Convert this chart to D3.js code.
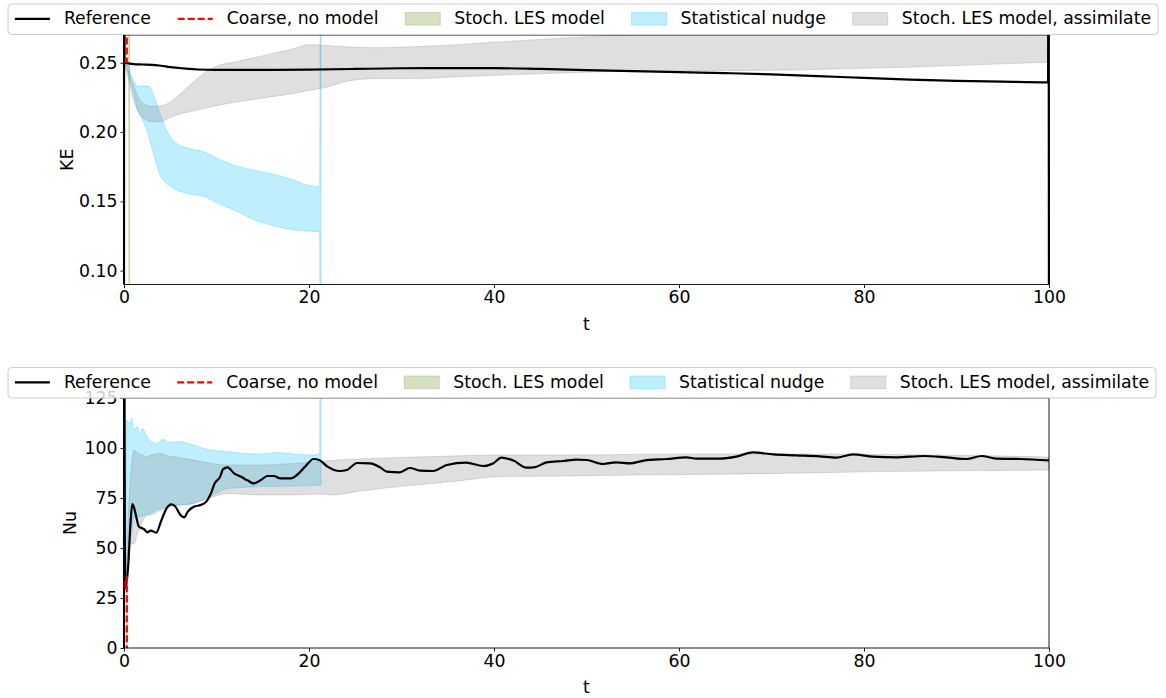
<!DOCTYPE html>
<html>
<head>
<meta charset="utf-8">
<script src="https://cdn.jsdelivr.net/npm/d3@7"></script>
<style>
  body { margin: 0; background: #fff; }
  text { font-family: "DejaVu Sans", sans-serif; }
</style>
</head>
<body>
<svg id="fig" width="1166" height="698"></svg>
<script>
// ---------- Kinetic energy (KE) ----------
const keRefT = [0, 0.01, 0.06, 0.5, 1, 2, 3, 4, 5, 6, 7, 8, 10, 15, 20, 25, 30, 35, 40, 45, 50, 55, 60, 65, 70, 75, 80, 85, 90, 95, 99.9, 99.95, 100];
const keRefV = [0.0, 0.5, 0.250, 0.2495, 0.249, 0.2487, 0.2485, 0.2478, 0.2468, 0.2462, 0.2455, 0.2451, 0.2448, 0.2448, 0.2450, 0.2455, 0.2460, 0.2461, 0.2461, 0.2455, 0.2447, 0.2440, 0.2432, 0.2425, 0.2416, 0.2404, 0.2390, 0.2378, 0.2369, 0.2363, 0.2358, 0.5, 0.0];

const keCoarseT = [0, 0.3, 0.36];
const keCoarseV = [0.25, 0.251, 5.0];

const keLesT  = [0, 0.3, 0.52, 0.58];
const keLesLo = [0.25, 0.248, 0.246, -1.0];
const keLesHi = [0.25, 0.251, 0.252, 1.0];

const keNudgeT  = [0, 0.3, 0.85, 1.6, 2, 2.7, 3.2, 3.9, 4.6, 5.7, 7.1, 8.6, 10.1, 11.9, 14.1, 16.6, 18.4, 19.9, 21.15, 21.3];
const keNudgeLo = [0.25, 0.245, 0.233, 0.214, 0.209, 0.196, 0.184, 0.169, 0.163, 0.1581, 0.1552, 0.1537, 0.1486, 0.1437, 0.1365, 0.1317, 0.1293, 0.1285, 0.1281, -1.0];
const keNudgeHi = [0.25, 0.2493, 0.2397, 0.2330, 0.2333, 0.2330, 0.2265, 0.2133, 0.2013, 0.1917, 0.1881, 0.1857, 0.1809, 0.1761, 0.1725, 0.1689, 0.1653, 0.1617, 0.1605, 1.0];

const keAsmT  = [0, 0.5, 1, 1.5, 2, 3, 4, 5, 6, 7, 8, 9, 10, 12, 14, 16, 18, 20, 22, 24, 27, 30, 33, 36, 40, 45, 50, 53, 56, 60, 65, 70, 75, 80, 85, 90, 95, 100];
const keAsmHi = [0.250, 0.244, 0.234, 0.226, 0.221, 0.2185, 0.219, 0.2215, 0.227, 0.233, 0.239, 0.244, 0.2475, 0.2505, 0.2535, 0.2565, 0.2595, 0.2630, 0.2625, 0.2615, 0.2608, 0.2612, 0.2620, 0.2630, 0.2648, 0.2668, 0.2688, 0.2698, 0.2706, 0.2715, 0.2725, 0.273, 0.274, 0.275, 0.276, 0.276, 0.277, 0.278];
const keAsmLo = [0.250, 0.238, 0.224, 0.215, 0.2105, 0.2075, 0.2075, 0.2105, 0.213, 0.2145, 0.216, 0.2175, 0.219, 0.2215, 0.2235, 0.2255, 0.2275, 0.2300, 0.2325, 0.2365, 0.2385, 0.2385, 0.2388, 0.2398, 0.2409, 0.2420, 0.2432, 0.2437, 0.2440, 0.2442, 0.2444, 0.2445, 0.2452, 0.2460, 0.2468, 0.2480, 0.2492, 0.2504];

// ---------- Nusselt number (Nu) ----------
const nuRefT = [0, 0.01, 0.12, 0.45, 0.7, 0.9, 1.1, 1.4, 1.6, 2.2, 2.5, 2.9, 3.5, 4.0, 4.6, 5.1, 5.5, 6.1, 6.5, 6.9, 7.6, 8.3, 8.9, 9.4, 9.8, 10.4, 10.7, 11.2, 11.9, 12.6, 13.4, 14.0, 14.8, 15.5, 16.2, 16.9, 18.0, 18.7, 19.5, 20.5, 21.1, 22.0, 23.3, 24.1, 25.2, 26.6, 27.7, 28.4, 29.8, 30.9, 32.0, 33.4, 34.9, 37.0, 38.8, 39.9, 40.8, 42.1, 43.5, 44.3, 45.7, 47.5, 48.9, 50.0, 51.8, 53.2, 54.7, 56.2, 58.7, 60.8, 61.9, 64.4, 66.2, 68.0, 70.2, 72.7, 75.2, 77.0, 78.8, 81.0, 83.5, 86.4, 88.9, 91.1, 92.7, 94.3, 96.9, 100];
const nuRefV = [0, 200, 30, 40.7, 62.3, 72, 70, 64, 60.7, 59.3, 57.8, 58.7, 57.7, 63.3, 69.8, 71.8, 71, 66.5, 65.3, 68.2, 70.7, 71.5, 73.2, 77.3, 82.3, 85.7, 89.3, 90.3, 87.3, 85.7, 83.7, 82.3, 84, 86, 86, 84.8, 84.8, 86.5, 90.3, 94.5, 94, 90.7, 88.5, 89, 92.5, 92.3, 90.3, 88.2, 87.8, 90, 88.7, 88.5, 91.5, 92.7, 91, 92.3, 95.2, 93.7, 90.2, 90.3, 92.8, 93.5, 94.2, 94, 92, 92.8, 92.3, 93.7, 94.5, 95.3, 94.7, 94.7, 95.7, 97.8, 96.8, 96.3, 95.8, 95.2, 96.8, 95.7, 95.3, 96, 95.3, 94.5, 96, 94.7, 94.5, 93.8];

const nuCoarseT = [0, 0.3, 0.33];
const nuCoarseV = [30, 35.5, -500];

const nuLesT  = [0, 0.2, 0.3, 0.34];
const nuLesLo = [28, 30, 32, -500];
const nuLesHi = [30, 33, 35, 35];

const nuNudgeT  = [0.2, 0.3, 0.7, 0.8, 1.1, 1.4, 1.7, 2.0, 2.4, 2.9, 3.5, 4.2, 4.9, 6.0, 7.5, 9.3, 11.2, 13.0, 14.8, 16.6, 18.4, 20.5, 21.15, 21.3];
const nuNudgeLo = [35, 40.7, 54, 57, 65.7, 65.7, 65.7, 66, 66.5, 67.5, 69, 70, 71, 71.5, 72.3, 75.7, 79.8, 80.3, 80.7, 80.8, 81, 81.3, 81.5, 81.5];
const nuNudgeHi = [40, 114, 112, 115, 109, 110.7, 107.3, 109.8, 106.5, 103.2, 102.3, 104.3, 102.7, 103.2, 101.5, 99, 98.2, 97.3, 97, 97.7, 97, 96.5, 97, 1000];

const nuAsmT  = [0.2, 0.45, 0.8, 1.1, 1.5, 2.0, 2.4, 3.0, 3.8, 4.9, 5.3, 7.5, 9.4, 11.2, 14.8, 18.4, 21.2, 22.5, 25.6, 29.8, 33.4, 37, 40.6, 47.8, 55, 62.3, 70.9, 81.7, 92.5, 100];
const nuAsmHi = [35, 64, 90.7, 99, 97.3, 96.5, 95.7, 96.5, 97.3, 96, 95.7, 94, 92.3, 91.5, 91.5, 92.3, 93.2, 93.8, 94.5, 95.3, 95.7, 96.2, 96.5, 96.5, 96.8, 97, 97, 96.8, 96.2, 95.5];
const nuAsmLo = [30, 49, 52, 52.3, 57.7, 63.2, 66, 66.8, 68.5, 70.7, 71, 72.3, 75.3, 77.3, 76.5, 76.5, 77, 76.5, 78.5, 80.7, 82.3, 84, 85.7, 86, 86.5, 86.8, 87.3, 88.2, 88.7, 89];

// ---------- axes, ticks, legend ----------
const xTicks = [0, 20, 40, 60, 80, 100];
const keTicks = [0.10, 0.15, 0.20, 0.25];
const nuTicks = [0, 25, 50, 75, 100, 125];
const legendLabels = ["Reference", "Coarse, no model", "Stoch. LES model", "Statistical nudge", "Stoch. LES model, assimilate"];

const FS = 17.3;
const style = {
  ref:    { color: "#000000" },
  coarse: { color: "#ff0000" },
  les:    { color: "olivedrab", alpha: 0.28 },
  nudge:  { color: "deepskyblue", alpha: 0.25 },
  asm:    { color: "gray", alpha: 0.25 }
};

const svg = d3.select("#fig");
svg.append("rect").attr("width", 1166).attr("height", 698).attr("fill", "#fff");

const zip2 = (t, v) => t.map((ti, i) => ({ t: ti, v: v[i] }));
const zip3 = (t, lo, hi) => t.map((ti, i) => ({ t: ti, lo: lo[i], hi: hi[i] }));

function drawPanel(cfg) {
  const L = 124, R = 1049;
  const x = d3.scaleLinear().domain([0, 100]).range([L, R]);
  const y = d3.scaleLinear().domain(cfg.yDomain).range([cfg.bottom, cfg.top]);

  // clip slightly wider than the axes so edge lines keep their full width
  svg.append("clipPath").attr("id", cfg.id)
    .append("rect").attr("x", L - 1.5).attr("y", cfg.top).attr("width", R - L + 3).attr("height", cfg.bottom - cfg.top);

  const g = svg.append("g");
  const plot = g.append("g").attr("clip-path", `url(#${cfg.id})`);

  const area = d3.area().x(d => x(d.t)).y0(d => y(d.lo)).y1(d => y(d.hi)).curve(d3.curveMonotoneX);
  const line = d3.line().x(d => x(d.t)).y(d => y(d.v)).curve(d3.curveMonotoneX);

  for (const b of cfg.bands) {
    const s = style[b.key];
    plot.append("path").datum(b.data).attr("d", area)
      .attr("fill", s.color).attr("fill-opacity", s.alpha)
      .attr("stroke", s.color).attr("stroke-opacity", s.alpha).attr("stroke-width", 1);
  }
  plot.append("path").datum(cfg.ref).attr("d", line)
    .attr("fill", "none").attr("stroke", style.ref.color).attr("stroke-width", 2.2)
    .attr("stroke-linejoin", "round");
  plot.append("path").datum(cfg.coarse).attr("d", line)
    .attr("fill", "none").attr("stroke", style.coarse.color).attr("stroke-width", 2.2)
    .attr("stroke-dasharray", "7,3");

  // spines
  g.append("rect").attr("x", L).attr("y", cfg.top).attr("width", R - L).attr("height", cfg.bottom - cfg.top)
    .attr("fill", "none").attr("stroke", "#000").attr("stroke-width", 0.9);

  const xa = g.append("g").attr("transform", `translate(0,${cfg.bottom})`)
    .call(d3.axisBottom(x).tickValues(xTicks).tickFormat(d3.format("d")).tickSize(3.5).tickPadding(3));
  const ya = g.append("g").attr("transform", `translate(${L},0)`)
    .call(d3.axisLeft(y).tickValues(cfg.yTicks).tickFormat(cfg.yFmt).tickSize(3.5).tickPadding(3));
  for (const a of [xa, ya]) {
    a.select(".domain").remove();
    a.selectAll("line").attr("stroke", "#000").attr("stroke-width", 0.9);
    a.selectAll("text").attr("font-size", FS).attr("fill", "#000").attr("font-family", "DejaVu Sans");
  }

  g.append("text").attr("x", (L + R) / 2).attr("y", cfg.bottom + 45)
    .attr("text-anchor", "middle").attr("font-size", FS).text("t");
  g.append("text")
    .attr("transform", `translate(${cfg.ylabelX},${(cfg.top + cfg.bottom) / 2}) rotate(-90)`)
    .attr("text-anchor", "middle").attr("font-size", FS).text(cfg.ylabel);
}

function drawLegend(boxTop, boxLeft, boxRight) {
  const g = svg.append("g");
  const boxH = 30.5;
  g.append("rect").attr("x", boxLeft).attr("y", boxTop).attr("width", boxRight - boxLeft).attr("height", boxH)
    .attr("rx", 3.5).attr("fill", "#fff").attr("fill-opacity", 0.8)
    .attr("stroke", "#cccccc").attr("stroke-width", 1);

  const handleW = 35, textPad = 14, pad = 6.9;
  const keys = ["ref", "coarse", "les", "nudge", "asm"];
  const texts = legendLabels.map(lbl =>
    g.append("text").attr("font-size", FS).attr("y", boxTop + 20.3).text(lbl));
  const widths = texts.map(t => handleW + textPad + t.node().getComputedTextLength());
  const inner = (boxRight - boxLeft) - 2 * pad;
  const gap = (inner - d3.sum(widths)) / (widths.length - 1);
  let cx = boxLeft + pad;
  const cy = boxTop + 14.8;
  keys.forEach((k, i) => {
    const s = style[k];
    if (k === "ref" || k === "coarse") {
      const ln = g.append("line").attr("x1", cx).attr("x2", cx + handleW).attr("y1", cy).attr("y2", cy)
        .attr("stroke", s.color).attr("stroke-width", 2.2);
      if (k === "coarse") ln.attr("stroke-dasharray", "7,3");
    } else {
      g.append("rect").attr("x", cx).attr("y", cy - 6.3).attr("width", handleW).attr("height", 12.6)
        .attr("fill", s.color).attr("fill-opacity", s.alpha)
        .attr("stroke", s.color).attr("stroke-opacity", s.alpha).attr("stroke-width", 1);
    }
    texts[i].attr("x", cx + handleW + textPad);
    cx += widths[i] + gap;
  });
}

drawPanel({
  id: "clipKE", top: 35, bottom: 284.5, yDomain: [0.09, 0.27],
  yTicks: keTicks, yFmt: d3.format(".2f"), ylabel: "KE", ylabelX: 73,
  ref: zip2(keRefT, keRefV), coarse: zip2(keCoarseT, keCoarseV),
  bands: [
    { key: "les", data: zip3(keLesT, keLesLo, keLesHi) },
    { key: "nudge", data: zip3(keNudgeT, keNudgeLo, keNudgeHi) },
    { key: "asm", data: zip3(keAsmT, keAsmLo, keAsmHi) }
  ]
});

drawPanel({
  id: "clipNu", top: 398, bottom: 648, yDomain: [0, 125],
  yTicks: nuTicks, yFmt: d3.format("d"), ylabel: "Nu", ylabelX: 76,
  ref: zip2(nuRefT, nuRefV), coarse: zip2(nuCoarseT, nuCoarseV),
  bands: [
    { key: "les", data: zip3(nuLesT, nuLesLo, nuLesHi) },
    { key: "nudge", data: zip3(nuNudgeT, nuNudgeLo, nuNudgeHi) },
    { key: "asm", data: zip3(nuAsmT, nuAsmLo, nuAsmHi) }
  ]
});

drawLegend(4, 8, 1158);
drawLegend(367.5, 8, 1156);
</script>
</body>
</html>
